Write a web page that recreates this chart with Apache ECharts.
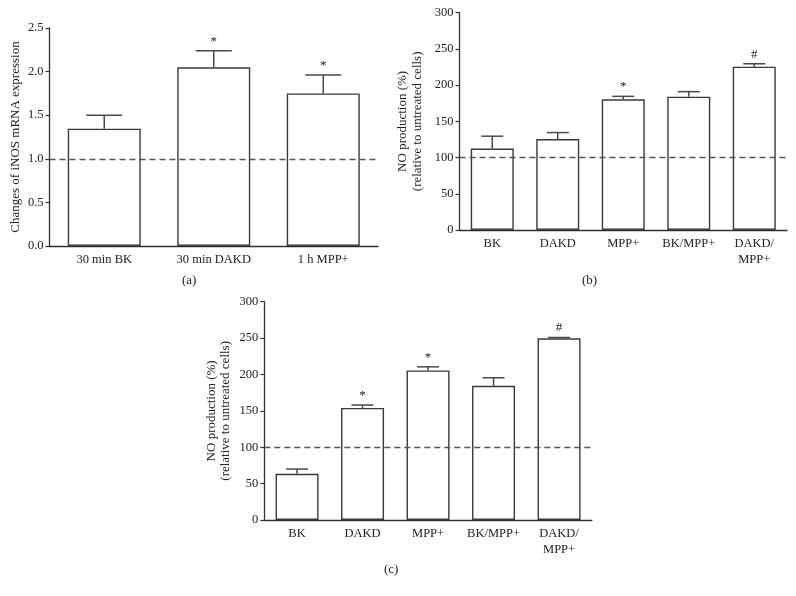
<!DOCTYPE html>
<html>
<head>
<meta charset="utf-8">
<script src="https://cdn.jsdelivr.net/npm/echarts@6/dist/echarts.min.js"></script>
<style>html,body{margin:0;padding:0;background:#fff}#c{width:796px;height:596px}</style>
</head>
<body>
<div id="c"></div>
<script>
// Panel (a)
const catsA = ['30 min BK', '30 min DAKD', '1 h MPP+'];
const valsA = [1.345, 2.05, 1.75];
const errA  = [0.155, 0.19, 0.21];
const sigA  = ['', '*', '*'];
const ticksA = [0, 0.5, 1.0, 1.5, 2.0, 2.5];

// Panels (b) and (c)
const catsBC = ['BK', 'DAKD', 'MPP+', 'BK/MPP+', 'DAKD/\nMPP+'];
const valsB = [112.5, 125.5, 180.5, 184, 225.5];
const errB  = [17, 9, 4, 7, 4];
const sigB  = ['', '', '*', '', '#'];
const valsC = [63.5, 154, 205.5, 184.5, 249.8];
const errC  = [6.5, 4, 5, 11, 1];
const sigC  = ['', '*', '*', '', '#'];
const ticksBC = [0, 50, 100, 150, 200, 250, 300];

const FONT = "'Liberation Serif', 'DejaVu Serif', serif";
const TXT = '#222';
const AX = '#333';

function errSeries(idx, vals, errs, sigs, capW) {
  return {
    type: 'custom', xAxisIndex: idx, yAxisIndex: idx, z: 5,
    data: vals.map((v, i) => [i, v, errs[i]]),
    renderItem: function (params, api) {
      const i = api.value(0), v = api.value(1), e = api.value(2);
      const base = api.coord([i, v]);
      const top = api.coord([i, v + e]);
      const children = [
        { type: 'line', shape: { x1: base[0], y1: base[1], x2: top[0], y2: top[1] },
          style: { stroke: '#4a4a4a', lineWidth: 1.5 } },
        { type: 'line', shape: { x1: top[0] - capW / 2, y1: top[1], x2: top[0] + capW / 2, y2: top[1] },
          style: { stroke: '#4a4a4a', lineWidth: 1.5 } }
      ];
      const s = sigs[params.dataIndex];
      if (s) {
        children.push({ type: 'text', x: top[0], y: top[1] - 3,
          style: { text: s, fill: TXT, font: '13px ' + FONT, align: 'center', verticalAlign: 'bottom' } });
      }
      return { type: 'group', children: children };
    }
  };
}

function barSeries(idx, vals, bw, refVal) {
  return {
    type: 'bar', xAxisIndex: idx, yAxisIndex: idx, data: vals, barWidth: bw, z: 2,
    itemStyle: { color: '#fff', borderColor: '#3a3a3a', borderWidth: 1.4 },
    markLine: {
      silent: true, symbol: 'none', label: { show: false },
      lineStyle: { color: '#555', type: [6, 4], width: 1.4 },
      data: [{ yAxis: refVal }]
    }
  };
}

function xAx(idx, cats) {
  return {
    type: 'category', gridIndex: idx, data: cats,
    axisLine: { lineStyle: { color: AX, width: 1.3 } },
    axisTick: { show: false },
    axisLabel: { color: TXT, fontFamily: FONT, fontSize: 12.5, lineHeight: 16, margin: 6, interval: 0 }
  };
}

function yAx(idx, min, max, interval, name, gap, fmt) {
  return {
    type: 'value', gridIndex: idx, min: min, max: max, interval: interval,
    name: name, nameLocation: 'middle', nameGap: gap, nameRotate: 90,
    nameTextStyle: { color: TXT, fontFamily: FONT, fontSize: 13, lineHeight: 14.5 },
    axisLine: { show: true, lineStyle: { color: AX, width: 1.3 } },
    axisTick: { show: true, length: 4, lineStyle: { color: AX, width: 1.2 } },
    splitLine: { show: false },
    axisLabel: { color: TXT, fontFamily: FONT, fontSize: 12.5, margin: 6, formatter: fmt }
  };
}

const chart = echarts.init(document.getElementById('c'), null, { renderer: 'canvas' });
chart.setOption({
  animation: false,
  backgroundColor: '#fff',
  grid: [
    { left: 49.5, top: 28, width: 328.5, height: 218 },
    { left: 459.5, top: 12.7, width: 327.5, height: 217.3 },
    { left: 264.3, top: 301.7, width: 327.5, height: 218.3 }
  ],
  xAxis: [xAx(0, catsA), xAx(1, catsBC), xAx(2, catsBC)],
  yAxis: [
    yAx(0, ticksA[0], ticksA[ticksA.length - 1], 0.5, 'Changes of iNOS mRNA expression', 27, v => v.toFixed(1)),
    yAx(1, ticksBC[0], ticksBC[ticksBC.length - 1], 50, 'NO production (%)\n(relative to untreated cells)', 35, v => String(v)),
    yAx(2, ticksBC[0], ticksBC[ticksBC.length - 1], 50, 'NO production (%)\n(relative to untreated cells)', 31, v => String(v))
  ],
  series: [
    barSeries(0, valsA, 73, 1.0),
    errSeries(0, valsA, errA, sigA, 36),
    barSeries(1, valsB, 43, 100),
    errSeries(1, valsB, errB, sigB, 22),
    barSeries(2, valsC, 43, 100),
    errSeries(2, valsC, errC, sigC, 22)
  ],
  graphic: [
    { type: 'text', left: 182, top: 274, style: { text: '(a)', fill: TXT, font: '13px ' + FONT } },
    { type: 'text', left: 582, top: 274, style: { text: '(b)', fill: TXT, font: '13px ' + FONT } },
    { type: 'text', left: 384, top: 563, style: { text: '(c)', fill: TXT, font: '13px ' + FONT } }
  ]
});
</script>
</body>
</html>
